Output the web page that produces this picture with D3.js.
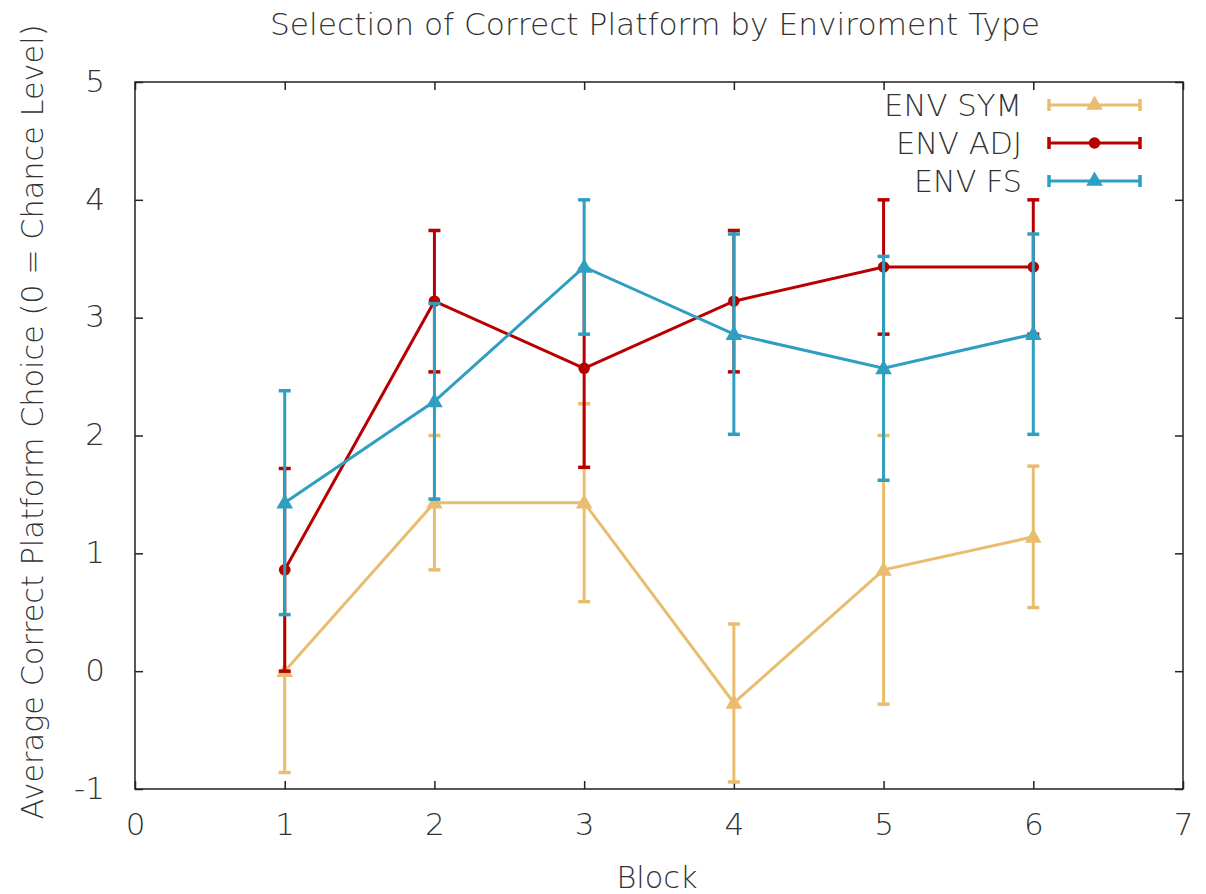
<!DOCTYPE html>
<html><head><meta charset="utf-8">
<script src="https://cdn.jsdelivr.net/npm/d3@7"></script>
<style>body{margin:0;background:#fff}svg{display:block;font-family:"DejaVu Sans",sans-serif}</style>
</head><body><svg id="c" width="1206" height="894"></svg>
<script>
const blocks = [1, 2, 3, 4, 5, 6];
const symMean = [0.0, 1.43, 1.43, -0.27, 0.86, 1.14];
const symErr  = [0.86, 0.57, 0.84, 0.67, 1.14, 0.6];
const adjMean = [0.86, 3.14, 2.57, 3.14, 3.43, 3.43];
const adjErr  = [0.86, 0.6, 0.84, 0.6, 0.57, 0.57];
const fsMean  = [1.43, 2.29, 3.43, 2.86, 2.57, 2.86];
const fsErr   = [0.95, 0.83, 0.57, 0.85, 0.95, 0.85];
const xTicks = [0, 1, 2, 3, 4, 5, 6, 7];
const yTicks = [-1, 0, 1, 2, 3, 4, 5];
const seriesNames = ["ENV SYM", "ENV ADJ", "ENV FS"];
const seriesColors = ["#e9bd6f", "#b80000", "#2e9fc1"];

const series = [
  {name: seriesNames[0], color: seriesColors[0], mean: symMean, err: symErr, marker: "tri"},
  {name: seriesNames[1], color: seriesColors[1], mean: adjMean, err: adjErr, marker: "circ"},
  {name: seriesNames[2], color: seriesColors[2], mean: fsMean, err: fsErr, marker: "tri"}
];

const TXT = "#333";
const svg = d3.select("#c");
const L = 135, R = 1183, T = 82, B = 789;
const x = d3.scaleLinear().domain([0, 7]).range([L, R]);
const y = d3.scaleLinear().domain([-1, 5]).range([B, T]);
const fmt = d => String(d);

const xa = svg.append("g").attr("transform", `translate(0,${B})`)
  .call(d3.axisBottom(x).tickValues(xTicks).tickSize(-8).tickPadding(24).tickFormat(fmt));
const xt = svg.append("g").attr("transform", `translate(0,${T})`)
  .call(d3.axisTop(x).tickValues(xTicks).tickSize(-8).tickFormat(""));
const ya = svg.append("g").attr("transform", `translate(${L},0)`)
  .call(d3.axisLeft(y).tickValues(yTicks).tickSize(-8).tickPadding(30).tickFormat(fmt));
const yr = svg.append("g").attr("transform", `translate(${R},0)`)
  .call(d3.axisRight(y).tickValues(yTicks).tickSize(-8).tickFormat(""));
[xa, xt, ya, yr].forEach(g => {
  g.select(".domain").remove();
  g.selectAll(".tick line").attr("stroke", "#222").attr("stroke-width", 1.5);
  g.selectAll("text").attr("fill", TXT).style("font-size", "31px").style("font-family", "DejaVu Sans").style("font-weight", "200");
});
xa.selectAll("text").attr("dy", "0.71em");
ya.selectAll("text").attr("dy", "0.3em");

svg.append("rect").attr("x", L).attr("y", T).attr("width", R - L).attr("height", B - T)
  .attr("fill", "none").attr("stroke", "#222").attr("stroke-width", 1.5);

const cap = 6;
const triPath = d3.symbol().type(d3.symbolTriangle).size(120);
const circPath = d3.symbol().type(d3.symbolCircle).size(105);

series.forEach(s => {
  const g = svg.append("g");
  const data = blocks.map((b, i) => ({b, m: s.mean[i], e: s.err[i]}));
  g.append("path").datum(data)
    .attr("d", d3.line().x(d => x(d.b)).y(d => y(d.m)))
    .attr("fill", "none").attr("stroke", s.color).attr("stroke-width", 3);
  data.forEach(d => {
    const px = x(d.b);
    g.append("line").attr("x1", px).attr("x2", px).attr("y1", y(d.m - d.e)).attr("y2", y(d.m + d.e))
      .attr("stroke", s.color).attr("stroke-width", 3);
    [d.m - d.e, d.m + d.e].forEach(v => {
      g.append("line").attr("x1", px - cap).attr("x2", px + cap).attr("y1", y(v)).attr("y2", y(v))
        .attr("stroke", s.color).attr("stroke-width", 3.5);
    });
    g.append("path").attr("d", s.marker === "tri" ? triPath() : circPath())
      .attr("transform", `translate(${px},${y(d.m) + (s.marker === "tri" ? 1 : 0)})`).attr("fill", s.color);
  });
});

const legY = [105, 143, 181];
const legW = [138, 126, 108];
series.forEach((s, i) => {
  const g = svg.append("g");
  g.append("text").attr("x", 1022).attr("y", legY[i]).attr("text-anchor", "end")
    .attr("dominant-baseline", "central").style("font-size", "30px").style("font-weight", "200").attr("fill", TXT)
    .attr("textLength", legW[i]).attr("lengthAdjust", "spacingAndGlyphs").text(s.name);
  const x1 = 1049, x2 = 1140, yy = legY[i];
  g.append("line").attr("x1", x1).attr("x2", x2).attr("y1", yy).attr("y2", yy).attr("stroke", s.color).attr("stroke-width", 3);
  [x1, x2].forEach(xx => g.append("line").attr("x1", xx).attr("x2", xx).attr("y1", yy - 6).attr("y2", yy + 6).attr("stroke", s.color).attr("stroke-width", 3.5));
  g.append("path").attr("d", s.marker === "tri" ? triPath() : circPath())
    .attr("transform", `translate(${(x1 + x2) / 2},${yy})`).attr("fill", s.color);
});

svg.append("text").attr("x", 655).attr("y", 24).attr("text-anchor", "middle").attr("dominant-baseline", "central")
  .style("font-size", "30px").style("font-weight", "200").attr("fill", TXT).attr("textLength", 770).attr("lengthAdjust", "spacingAndGlyphs")
  .text("Selection of Correct Platform by Enviroment Type");
svg.append("text").attr("x", 657).attr("y", 877).attr("text-anchor", "middle").attr("dominant-baseline", "central")
  .style("font-size", "30px").style("font-weight", "200").attr("fill", TXT).attr("textLength", 81).attr("lengthAdjust", "spacingAndGlyphs")
  .text("Block");
svg.append("text").attr("transform", "translate(32,422) rotate(-90)").attr("text-anchor", "middle").attr("dominant-baseline", "central")
  .style("font-size", "30px").style("font-weight", "200").attr("fill", TXT).attr("textLength", 795).attr("lengthAdjust", "spacingAndGlyphs")
  .text("Average Correct Platform Choice (0 = Chance Level)");
</script></body></html>
